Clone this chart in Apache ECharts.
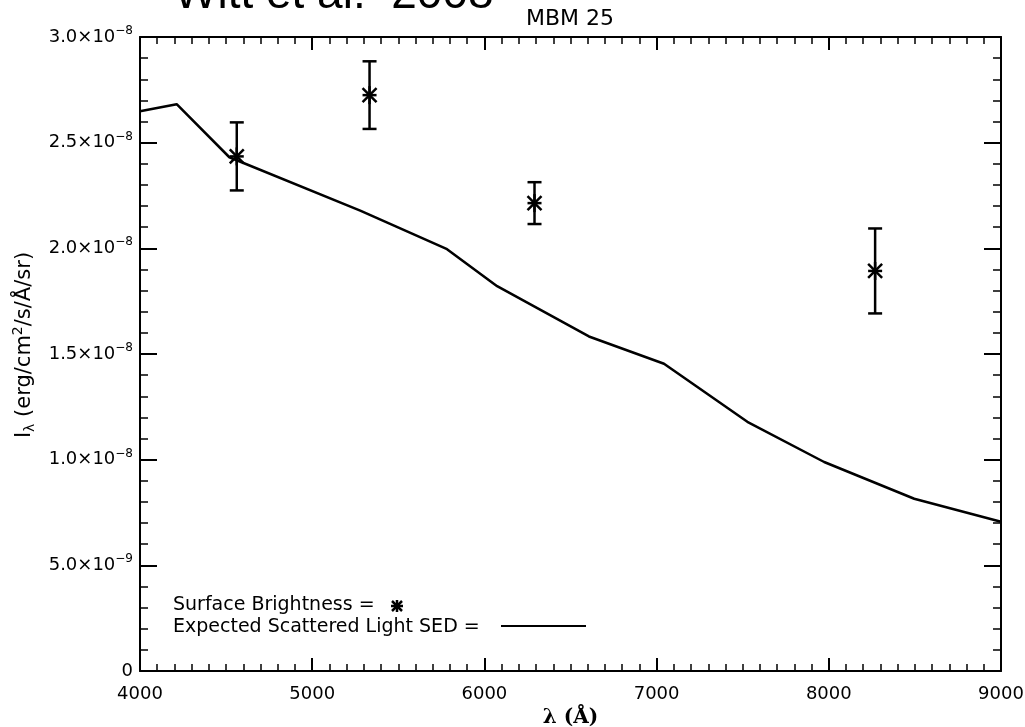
<!DOCTYPE html>
<html><head><meta charset="utf-8">
<script src="https://cdn.jsdelivr.net/npm/echarts@6/dist/echarts.min.js"></script>
<style>html,body{margin:0;padding:0;background:#fff}#c{width:1025px;height:727px}</style>
</head><body><div id="c"></div>
<script>
// Expected scattered light SED (flux in units of 1e-8 erg/cm2/s/Å/sr)
const sedLambda = [4000, 4213, 4519, 5279, 5783, 6074, 6607, 7043, 7527, 7973, 8496, 9000];
const sedFlux   = [2.649, 2.682, 2.431, 2.178, 1.996, 1.821, 1.583, 1.454, 1.179, 0.989, 0.815, 0.706];
// Observed surface brightness (units of 1e-8)
const obsLambda = [4562, 5333, 6291, 8269];
const obsFlux   = [2.435, 2.725, 2.214, 1.893];
const obsErr    = [0.161, 0.160, 0.099, 0.201];
// tick labels
const xTicks = [4000, 5000, 6000, 7000, 8000, 9000];
const yTickText = {0: '{m|0}', 0.5: '{m|5.0×10}{e|−9}', 1: '{m|1.0×10}{e|−8}', 1.5: '{m|1.5×10}{e|−8}',
  2: '{m|2.0×10}{e|−8}', 2.5: '{m|2.5×10}{e|−8}', 3: '{m|3.0×10}{e|−8}'};

const FONT = 'DejaVu Sans';
const chart = echarts.init(document.getElementById('c'), null, {renderer: 'canvas'});

const sedData = sedLambda.map((x, i) => [x, sedFlux[i]]);
const obsData = obsLambda.map((x, i) => [x, obsFlux[i], obsFlux[i] - obsErr[i], obsFlux[i] + obsErr[i]]);

function renderObs(params, api) {
  const c = api.coord([api.value(0), api.value(1)]);
  const lo = api.coord([api.value(0), api.value(2)]);
  const hi = api.coord([api.value(0), api.value(3)]);
  const s = {stroke: '#000', lineWidth: 2.5};
  const cap = 7, a = 7;
  const L = (x1, y1, x2, y2) => ({type: 'line', shape: {x1, y1, x2, y2}, style: s});
  return {type: 'group', children: [
    L(lo[0], lo[1], hi[0], hi[1]),
    L(lo[0] - cap, lo[1], lo[0] + cap, lo[1]),
    L(hi[0] - cap, hi[1], hi[0] + cap, hi[1]),
    L(c[0] - a, c[1] - a, c[0] + a, c[1] + a),
    L(c[0] - a, c[1] + a, c[0] + a, c[1] - a),
    L(c[0] - a, c[1], c[0] + a, c[1]),
    L(c[0], c[1] - a - 2, c[0], c[1] + a + 2)
  ]};
}

const axisLineStyle = {color: '#000', width: 2};
const baseX = {
  type: 'value', min: 4000, max: 9000, interval: 1000,
  axisLine: {show: true, onZero: false, lineStyle: axisLineStyle},
  axisTick: {show: true, inside: true, length: 13, lineStyle: {color: '#000', width: 2}},
  minorTick: {show: true, splitNumber: 10, length: 7, lineStyle: {color: '#000', width: 1.5}},
  splitLine: {show: false}, minorSplitLine: {show: false}
};
const baseY = {
  type: 'value', min: 0, max: 3, interval: 0.5,
  axisLine: {show: true, onZero: false, lineStyle: axisLineStyle},
  axisTick: {show: true, inside: true, length: 17, lineStyle: {color: '#000', width: 2}},
  minorTick: {show: true, splitNumber: 5, length: 8, lineStyle: {color: '#000', width: 1.5}},
  splitLine: {show: false}, minorSplitLine: {show: false}
};

chart.setOption({
  backgroundColor: '#fff',
  animation: false,
  grid: {left: 140, right: 24, top: 37, bottom: 56, containLabel: false, outerBoundsMode: 'none'},
  xAxis: [
    Object.assign({}, baseX, {position: 'bottom',
      axisLabel: {show: true, margin: 14, fontFamily: FONT, fontSize: 18, color: '#000',
        formatter: v => xTicks.includes(v) ? String(v) : ''},
      name: 'λ (Å)', nameLocation: 'middle', nameGap: 37,
      nameTextStyle: {fontFamily: 'DejaVu Serif', fontSize: 20, fontWeight: 'bold', color: '#000'}}),
    Object.assign({}, baseX, {position: 'top', axisLabel: {show: false}})
  ],
  yAxis: [
    Object.assign({}, baseY, {position: 'left',
      axisLabel: {show: true, margin: 7, color: '#000',
        formatter: v => { const k = Math.round(v * 10) / 10; return yTickText[k] || ''; },
        rich: {
          m: {fontFamily: FONT, fontSize: 18, color: '#000'},
          e: {fontFamily: FONT, fontSize: 12, color: '#000', padding: [0, 0, 12, 0]}
        }}}),
    Object.assign({}, baseY, {position: 'right', axisLabel: {show: false}})
  ],
  graphic: [
    {type: 'text', x: 570, y: 19, style: {text: 'MBM 25', fontFamily: FONT, fontSize: 22, fill: '#000', textAlign: 'center', textVerticalAlign: 'middle'}},
    {type: 'text', x: 174, y: 18, style: {text: 'Witt et al.  2008', fontFamily: 'Liberation Sans', fontSize: 46, fill: '#000', textVerticalAlign: 'bottom'}},
    {type: 'text', x: 25, y: 345, rotation: Math.PI / 2, style: {
      text: '{a|I}{b|λ}{a| (erg/cm}{c|2}{a|/s/Å/sr)}', textAlign: 'center', textVerticalAlign: 'middle',
      rich: {
        a: {fontFamily: FONT, fontSize: 21, fill: '#000'},
        b: {fontFamily: FONT, fontSize: 14, fill: '#000', padding: [11, 0, 0, 0]},
        c: {fontFamily: FONT, fontSize: 14, fill: '#000', padding: [0, 0, 13, 0]}
      }}},
    {type: 'text', x: 173, y: 605, style: {text: 'Surface Brightness =', fontFamily: FONT, fontSize: 19, fill: '#000', textVerticalAlign: 'middle'}},
    {type: 'text', x: 173, y: 627, style: {text: 'Expected Scattered Light SED =', fontFamily: FONT, fontSize: 19, fill: '#000', textVerticalAlign: 'middle'}},
    {type: 'line', shape: {x1: 501, y1: 626, x2: 586, y2: 626}, style: {stroke: '#000', lineWidth: 2}},
    {type: 'group', x: 397, y: 606, children: [
      {type: 'line', shape: {x1: -5, y1: -5, x2: 5, y2: 5}, style: {stroke: '#000', lineWidth: 2.5}},
      {type: 'line', shape: {x1: -5, y1: 5, x2: 5, y2: -5}, style: {stroke: '#000', lineWidth: 2.5}},
      {type: 'line', shape: {x1: -6, y1: 0, x2: 6, y2: 0}, style: {stroke: '#000', lineWidth: 2.5}},
      {type: 'line', shape: {x1: 0, y1: -6, x2: 0, y2: 6}, style: {stroke: '#000', lineWidth: 2.5}}
    ]}
  ],
  series: [
    {type: 'line', data: sedData, xAxisIndex: 0, yAxisIndex: 0, showSymbol: false, symbol: 'none',
      lineStyle: {color: '#000', width: 2.5}, clip: true},
    {type: 'custom', data: obsData, xAxisIndex: 0, yAxisIndex: 0, renderItem: renderObs,
      encode: {x: 0, y: [1, 2, 3]}}
  ]
});
</script></body></html>
